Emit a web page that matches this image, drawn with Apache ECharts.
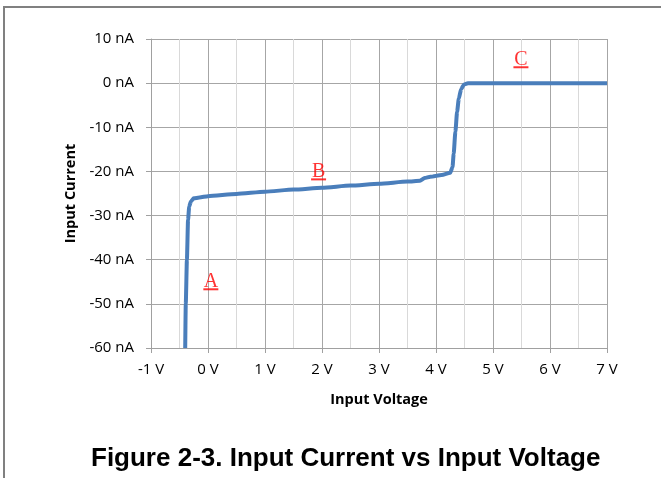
<!DOCTYPE html>
<html>
<head>
<meta charset="utf-8">
<script src="https://cdn.jsdelivr.net/npm/echarts@6/dist/echarts.min.js"></script>
<style>
  body { margin: 0; background: #fff; }
  #frame { position: absolute; left: 3px; top: 6px; width: 700px; height: 500px;
           border-top: 2px solid #808080; border-left: 2px solid #808080; }
  #chart { position: absolute; left: 0; top: 0; width: 661px; height: 478px; }
</style>
</head>
<body>
<div id="frame"></div>
<div id="chart"></div>
<script>
// curve: input voltage (V) vs input current (nA)
const voltage = [-0.40, -0.39, -0.37, -0.35, -0.33, -0.30, -0.25, -0.15, 0.0, 0.5, 1.0, 1.5, 2.0, 2.5, 3.0, 3.5, 3.72, 3.80, 3.90, 4.10, 4.25, 4.29, 4.31, 4.34, 4.37, 4.40, 4.44, 4.49, 4.56, 5.0, 6.0, 7.0];
const current = [-60, -50, -40, -31, -28, -26.8, -26.1, -25.9, -25.6, -25.1, -24.6, -24.1, -23.7, -23.2, -22.8, -22.3, -22.1, -21.5, -21.2, -20.8, -20.3, -19, -16, -11, -6.5, -3.5, -1.4, -0.3, 0, 0, 0, 0];

// region labels
const regionNames = ['A', 'B', 'C'];
const regionV = [0.05, 1.94, 5.49];
const regionI = [-46.7, -21.8, 3.6];

const xTicks = { min: -1, max: 7, step: 1 };
const yTicks = { min: -60, max: 10, step: 10 };

let myChart = echarts.init(document.getElementById('chart'));

const axisGray = '#a0a0a0';
const tickFont = { fontFamily: 'Open Sans', fontSize: 15, color: '#000' };
const nameFont = { fontFamily: 'Open Sans', fontSize: 14.5, fontWeight: 'bold', color: '#000' };

myChart.setOption({
  animation: false,
  title: {
    text: 'Figure 2-3. Input Current vs Input Voltage',
    left: 86,
    top: 441,
    textStyle: { fontFamily: 'Liberation Sans', fontWeight: 'bold', fontSize: 26, color: '#000' }
  },
  grid: { left: 151, right: 54, top: 39, bottom: 130, outerBoundsMode: 'none' },
  xAxis: {
    type: 'value',
    min: xTicks.min, max: xTicks.max, interval: xTicks.step,
    name: 'Input Voltage', nameLocation: 'middle', nameGap: 44,
    nameTextStyle: nameFont,
    axisLine: { show: true, onZero: false, lineStyle: { color: axisGray, width: 1 } },
    axisTick: { show: true, length: 5, lineStyle: { color: axisGray } },
    axisLabel: Object.assign({ margin: 14, formatter: '{value} V' }, tickFont),
    splitLine: { show: true, lineStyle: { color: '#a6a6a6', width: 1 } },
    minorTick: { show: false, splitNumber: 2 },
    minorSplitLine: { show: true, lineStyle: { color: '#d9d9d9', width: 1 } }
  },
  yAxis: {
    type: 'value',
    min: yTicks.min, max: yTicks.max, interval: yTicks.step,
    name: 'Input Current', nameLocation: 'middle', nameGap: 72,
    nameTextStyle: nameFont,
    axisLine: { show: true, onZero: false, lineStyle: { color: axisGray, width: 1 } },
    axisTick: { show: true, length: 5, lineStyle: { color: axisGray } },
    axisLabel: Object.assign({ margin: 17, formatter: '{value} nA' }, tickFont),
    splitLine: { show: true, lineStyle: { color: '#a6a6a6', width: 1 } }
  },
  series: [
    {
      type: 'line',
      data: voltage.map((v, i) => [v, current[i]]),
      showSymbol: false,
      smooth: 0.2,
      smoothMonotone: 'x',
      lineStyle: { color: '#4a7ebb', width: 4 },
      z: 3
    },
    {
      // underline mark with the letter on top
      type: 'scatter',
      data: regionNames.map((n, i) => ({ name: n, value: [regionV[i], regionI[i]] })),
      symbol: 'rect',
      symbolSize: [15, 2],
      itemStyle: { color: '#ff0000' },
      label: {
        show: true, position: 'top', distance: -3,
        formatter: '{b}',
        fontFamily: 'Liberation Serif', fontSize: 20, color: '#ff0000'
      },
      z: 4
    }
  ]
});
</script>
</body>
</html>
